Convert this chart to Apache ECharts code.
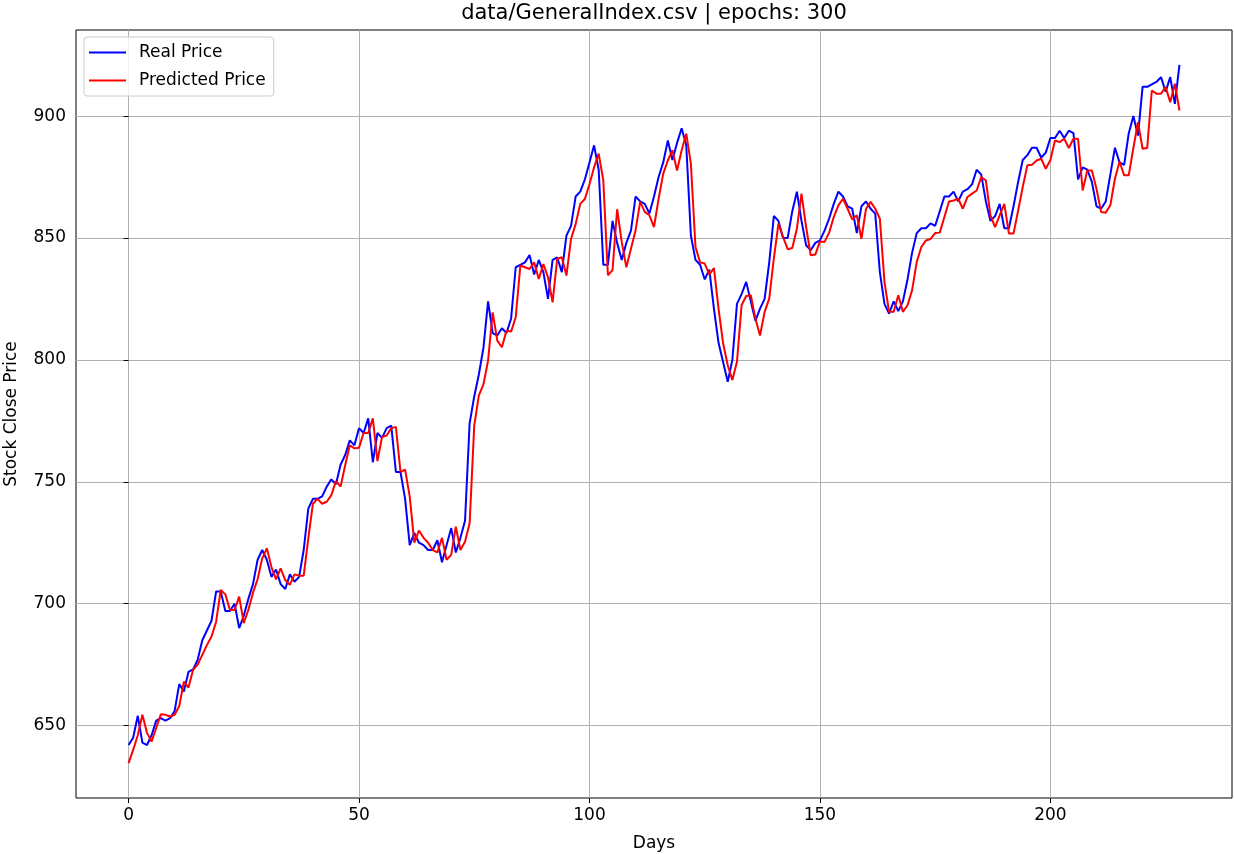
<!DOCTYPE html>
<html>
<head>
<meta charset="utf-8">
<script src="https://cdn.jsdelivr.net/npm/echarts@6/dist/echarts.min.js"></script>
<style>
  html, body { margin: 0; padding: 0; background: #fff; overflow: hidden; }
  #chart { width: 1234px; height: 854px; }
</style>
</head>
<body>
<div id="chart"></div>
<script>
// Daily close of the general index and the model's prediction, day 0..228
const realPrice = [
  642, 645, 654, 643, 642, 646, 652, 653, 652, 653,
  656, 667, 664, 672, 673, 677, 685, 689, 693, 705,
  705, 697, 697, 700, 690, 695, 702, 708, 718, 722,
  718, 711, 714, 708, 706, 712, 709, 711, 722, 739,
  743, 743, 744, 748, 751, 749, 757, 761, 767, 765,
  772, 770, 776, 758, 770, 768, 772, 773, 754, 754,
  743, 724, 729, 725, 724, 722, 722, 726, 717, 724,
  731, 721, 727, 734, 774, 785, 794, 805, 824, 811,
  810, 813, 811, 817, 838, 839, 840, 843, 835, 841,
  836, 825, 841, 842, 836, 851, 855, 867, 869, 874,
  881, 888, 878, 839, 839, 857, 848, 841, 848, 853,
  867, 865, 864, 860, 867, 875, 881, 890, 882, 889,
  895, 888, 851, 841, 839, 833, 837, 821, 807, 799,
  791, 800, 823, 827, 832, 824, 816, 821, 825, 840,
  859, 857, 850, 850, 861, 869, 857, 847, 845, 848,
  849, 853, 858, 864, 869, 867, 863, 862, 852, 863,
  865, 862, 860, 836, 823, 819, 824, 820, 824, 833,
  844, 852, 854, 854, 856, 855, 861, 867, 867, 869,
  865, 869, 870, 872, 878, 876, 865, 857, 859, 864,
  854, 854, 863, 873, 882, 884, 887, 887, 883, 885,
  891, 891, 894, 891, 894, 893, 874, 879, 878, 873,
  863, 862, 865, 876, 887, 881, 880, 893, 900, 892,
  912, 912, 913, 914, 916, 910, 916, 905, 921
];

const predictedPrice = [
  634.6, 640, 646, 654.4, 647, 643.4, 649, 654.6, 654.4, 653.7,
  654.4, 658, 668, 665.6, 672.8, 675, 679, 683, 686.5, 692.6,
  705.6, 703.8, 697.4, 697.4, 702.9, 692, 697.5, 704.5, 710, 718.6,
  722.7, 715, 710, 714.5, 709.7, 707.7, 712, 711.5, 711.5, 726.8,
  741, 743, 741, 741.8, 744.5, 750.3, 748, 756.8, 765, 763.7,
  764, 770, 770, 776, 758.5, 768.4, 769, 772, 772.5, 754,
  755, 744, 725, 730, 727, 725, 722, 721, 727, 718,
  720, 731.6, 722, 725.4, 733, 773, 785.4, 790, 799.7, 819.5,
  807.9, 805.2, 812, 811.6, 817.5, 838.7, 838, 837.3, 840, 833.2,
  839.3, 833.9, 823.6, 841.4, 842.1, 834.6, 849.6, 855.7, 864, 866,
  872, 879, 884.6, 873.6, 834.7, 836.8, 861.8, 848.4, 838, 845.6,
  853.1, 864.8, 860.7, 859.3, 854.5, 866.1, 876.4, 881.8, 886, 877.7,
  886, 892.8, 880.5, 846.3, 840, 839.5, 835, 837.7, 821, 806.7,
  797.8, 791.7, 799.2, 822.4, 826.2, 826.5, 817, 810, 819.7, 825.1,
  841.5, 855.9, 850.4, 845.4, 845.9, 853.8, 868.2, 854.5, 842.9, 843.2,
  848.6, 848.4, 852.2, 858.6, 863.4, 866.1, 862, 857.6, 859.3, 849.7,
  862, 864.8, 862, 857.9, 832, 819.7, 819.7, 826.5, 819.7, 822.4,
  828.6, 840.2, 846.3, 849, 849.6, 852, 852.2, 858.6, 865, 865.4,
  866.1, 862, 866.8, 868.2, 869.5, 875, 873.6, 859.3, 854.5, 859.3,
  864, 851.8, 851.8, 861.3, 870.9, 879.8, 880, 881.8, 882.5, 878.4,
  882, 890, 889.3, 890.7, 886.9, 890.7, 890.7, 869.5, 877.7, 877.7,
  870.2, 860.7, 860.4, 863.4, 874.3, 881.4, 875.7, 875.7, 886.9, 897.5,
  886.6, 886.9, 910.5, 909.2, 909.2, 911.9, 905.7, 913.3, 902.3
];

const xTicks = [0, 50, 100, 150, 200];
const yTicks = [650, 700, 750, 800, 850, 900];

const titleText = 'data/GeneralIndex.csv | epochs: 300';
const seriesNames = ['Real Price', 'Predicted Price'];

// Axis ranges padded by 5% of the data span on each side
const lastDay = realPrice.length - 1;
const xPad = lastDay * 0.05;
const allValues = realPrice.concat(predictedPrice);
const yLo = Math.min(...allValues);
const yHi = Math.max(...allValues);
const yPad = (yHi - yLo) * 0.05;

const FONT = 'DejaVu Sans';
const LABEL_SIZE = 17;

const chart = echarts.init(document.getElementById('chart'), null, { renderer: 'canvas' });

chart.setOption({
  animation: false,
  backgroundColor: '#ffffff',
  textStyle: { fontFamily: FONT },
  title: {
    text: titleText,
    left: 654,
    textAlign: 'center',
    top: 3,
    padding: 0,
    textStyle: { fontFamily: FONT, fontSize: 21, fontWeight: 'normal', color: '#000' }
  },
  legend: {
    orient: 'vertical',
    left: 84,
    top: 37,
    padding: [7, 8, 7, 5],
    itemWidth: 37,
    itemHeight: 16,
    itemGap: 11,
    backgroundColor: 'rgba(255,255,255,0.8)',
    borderColor: '#cccccc',
    borderWidth: 1,
    borderRadius: 3,
    textStyle: { fontFamily: FONT, fontSize: LABEL_SIZE, color: '#000', padding: [0, 0, 0, 8] },
    data: seriesNames.map(n => ({ name: n, icon: 'path://M0,0 L37,0 L37,2 L0,2 Z' }))
  },
  grid: {
    left: 76,
    right: 2,
    top: 30,
    bottom: 56,
    show: true,
    borderColor: '#000',
    borderWidth: 1,
    containLabel: false,
    outerBoundsMode: 'none'
  },
  xAxis: {
    type: 'value',
    min: -xPad,
    max: lastDay + xPad,
    name: 'Days',
    nameLocation: 'middle',
    nameGap: 37,
    nameTextStyle: { fontFamily: FONT, fontSize: LABEL_SIZE, color: '#000' },
    axisLine: { show: false },
    axisTick: { show: true, length: 5, lineStyle: { color: '#000' }, customValues: xTicks },
    axisLabel: { fontFamily: FONT, fontSize: LABEL_SIZE, color: '#000', margin: 9, customValues: xTicks },
    splitLine: { show: true, lineStyle: { color: '#b0b0b0', width: 1 } }
  },
  yAxis: {
    type: 'value',
    min: yLo - yPad,
    max: yHi + yPad,
    name: 'Stock Close Price',
    nameLocation: 'middle',
    nameGap: 56,
    nameTextStyle: { fontFamily: FONT, fontSize: LABEL_SIZE, color: '#000' },
    axisLine: { show: false },
    axisTick: { show: true, length: 5, lineStyle: { color: '#000' }, customValues: yTicks },
    axisLabel: { fontFamily: FONT, fontSize: LABEL_SIZE, color: '#000', margin: 10, customValues: yTicks },
    splitLine: { show: true, lineStyle: { color: '#b0b0b0', width: 1 } }
  },
  series: [
    {
      name: seriesNames[0],
      type: 'line',
      data: realPrice.map((v, i) => [i, v]),
      symbol: 'none',
      itemStyle: { color: '#0000ff' },
      lineStyle: { color: '#0000ff', width: 2 },
      z: 3
    },
    {
      name: seriesNames[1],
      type: 'line',
      data: predictedPrice.map((v, i) => [i, v]),
      symbol: 'none',
      itemStyle: { color: '#ff0000' },
      lineStyle: { color: '#ff0000', width: 2 },
      z: 4
    }
  ]
});
</script>
</body>
</html>
